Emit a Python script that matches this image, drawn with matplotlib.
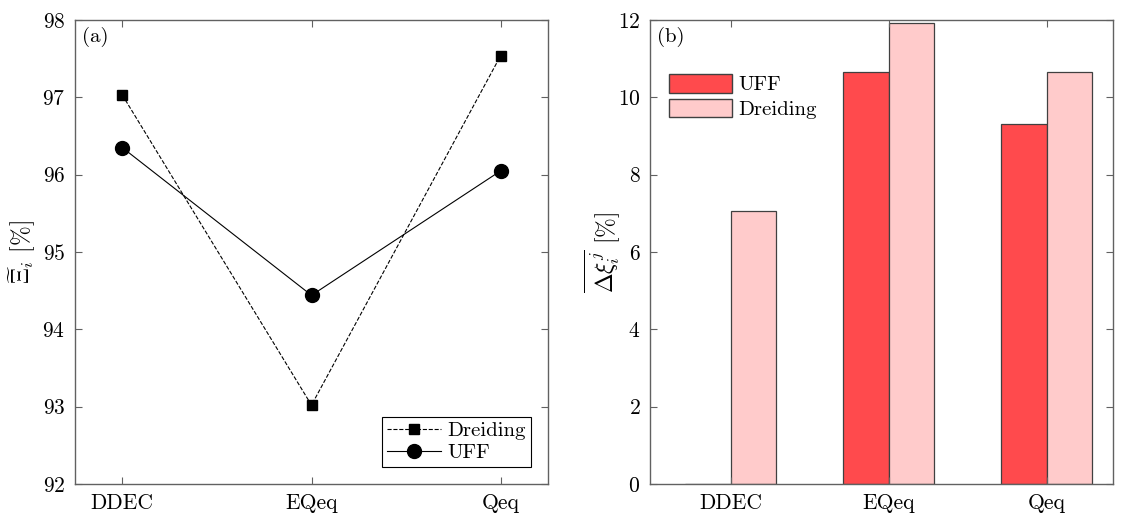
"""
Charge scheme comparison: similarity (a) and mean deviation (b) for UFF and Dreiding.
"""

import numpy as np
import matplotlib.pyplot as plt
from matplotlib.patches import Patch

plt.rcParams['font.family'] = ['cmr10', 'DejaVu Serif']
plt.rcParams['mathtext.fontset'] = 'cm'
plt.rcParams['axes.formatter.use_mathtext'] = True

schemes = ["DDEC", "EQeq", "Qeq"]
sim_dreiding = [97.03, 93.02, 97.54]
sim_uff = [96.35, 94.44, 96.05]
dev_uff = [0.0, 10.65, 9.31]
dev_dreiding = [7.06, 11.92, 10.65]

AX_COL = '0.38'


def style_axes(ax):
    for s in ax.spines.values():
        s.set_color(AX_COL)
        s.set_linewidth(1.0)
    ax.tick_params(direction='in', top=True, right=True, length=5,
                   color=AX_COL, labelsize=15.5, pad=7)


fig = plt.figure(figsize=(11.23, 5.15), dpi=100)
ax1 = fig.add_axes([75 / 1123, 31 / 515, 473 / 1123, 464 / 515])
ax2 = fig.add_axes([650 / 1123, 31 / 515, 463 / 1123, 464 / 515])

# (a) similarity
x = np.arange(1, len(schemes) + 1)
ax1.plot(x, sim_dreiding, '--s', color='k', lw=0.8, ms=7, label='Dreiding')
ax1.plot(x, sim_uff, '-o', color='k', lw=0.8, ms=10, label='UFF')
ax1.set_xlim(0.75, 3.25)
ax1.set_ylim(92, 98)
ax1.set_xticks(x)
ax1.set_xticklabels(schemes)
ax1.set_yticks(np.arange(92, 99, 1))
ax1.set_ylabel(r'$\widetilde{\Xi}_i$ [%]', fontsize=17, labelpad=3)
ax1.text(0.015, 0.985, '(a)', transform=ax1.transAxes, ha='left', va='top', fontsize=15)
leg1 = ax1.legend(loc='lower right', fontsize=15, frameon=True, fancybox=False,
                  edgecolor='k', framealpha=1, handlelength=2.6, borderaxespad=0.8,
                  handletextpad=0.3, borderpad=0.25, labelspacing=0.15)
leg1.get_frame().set_linewidth(0.8)
style_axes(ax1)

# (b) deviation
w = 0.29
ax2.bar(x - w / 2, dev_uff, w, color='#ff4a4d', edgecolor='0.25', lw=0.9)
ax2.bar(x + w / 2, dev_dreiding, w, color='#ffcbcb', edgecolor='0.25', lw=0.9)
ax2.set_xlim(0.49, 3.42)
ax2.set_ylim(0, 12)
ax2.set_xticks(x)
ax2.set_xticklabels(schemes)
ax2.set_yticks(np.arange(0, 13, 2))
ax2.set_ylabel(r'$\overline{\Delta\xi_i^j}$ [%]', fontsize=17, labelpad=-3)
ax2.text(0.015, 0.985, '(b)', transform=ax2.transAxes, ha='left', va='top', fontsize=15)
handles = [Patch(facecolor='#ff4a4d', edgecolor='0.25', label='UFF'),
           Patch(facecolor='#ffcbcb', edgecolor='0.25', label='Dreiding')]
ax2.legend(handles=handles, loc='upper left', bbox_to_anchor=(0.01, 0.915),
           fontsize=15, frameon=False, handlelength=3.0, handleheight=1.0,
           handletextpad=0.3, labelspacing=0.2, borderaxespad=0.3)
style_axes(ax2)

fig.savefig('out.png', dpi=100)
plt.close(fig)
